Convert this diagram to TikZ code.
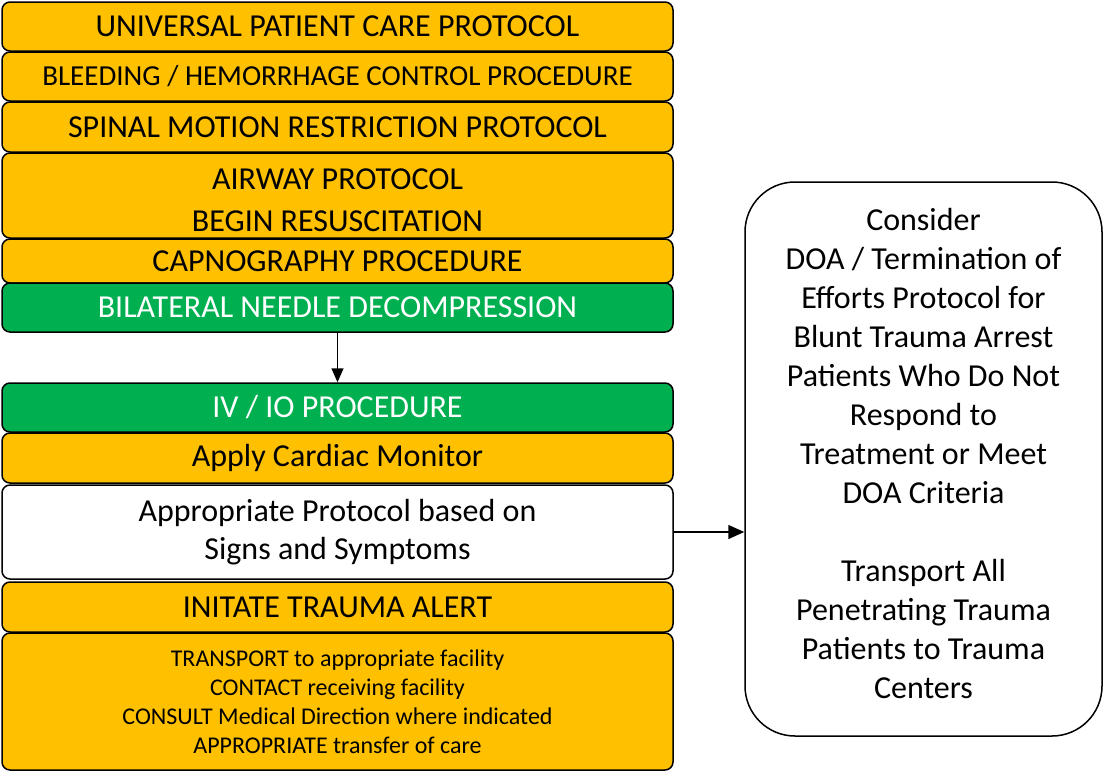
\documentclass[tikz,border=0pt]{standalone}
\usepackage{fontspec}
\setmainfont{Carlito}
\usetikzlibrary{positioning, arrows.meta}

\definecolor{amberfill}{HTML}{FFC000}
\definecolor{greenfill}{HTML}{00B050}

\begin{document}
\begin{tikzpicture}[
    x=1pt, y=-1pt,
    stack/.style={draw=black, line width=1.5pt, rounded corners=8pt, minimum width=671pt, inner sep=0pt, align=center},
    amber/.style={stack, fill=amberfill},
    greenbox/.style={stack, fill=greenfill, text=white},
    plainbox/.style={stack, fill=white},
    big/.style={font=\fontsize{32}{40}\selectfont},
    mid/.style={font=\fontsize{29}{36}\selectfont},
    small/.style={font=\fontsize{24}{29}\selectfont}
]
\useasboundingbox (0,0) rectangle (1106,772);

% Left column of steps
\node[amber, big, minimum height=49pt] (ucp) at (337.5,26.5) {UNIVERSAL PATIENT CARE PROTOCOL};
\node[amber, mid, minimum height=49pt] (bleed) at (337.5,76.5) {BLEEDING / HEMORRHAGE CONTROL PROCEDURE};
\node[amber, big, minimum height=50pt] (spine) at (337.5,127) {SPINAL MOTION RESTRICTION PROTOCOL};
\node[amber, big, minimum height=85pt] (airway) at (337.5,195.5) {\rule{0pt}{31pt}AIRWAY PROTOCOL\\[2pt]BEGIN RESUSCITATION};
\node[amber, big, minimum height=44pt] (capno) at (337.5,261) {CAPNOGRAPHY PROCEDURE};
\node[greenbox, big, minimum height=49pt] (needle) at (337.5,307.5) {BILATERAL NEEDLE DECOMPRESSION};

\node[greenbox, big, minimum height=49pt] (ivio) at (337.5,407.5) {IV / IO PROCEDURE};
\node[amber, big, minimum height=50pt] (monitor) at (337.5,458) {Apply Cardiac Monitor};
\node[plainbox, big, minimum height=94pt] (signs) at (337.5,532) {Appropriate Protocol based on\\[-2pt]Signs and Symptoms};
\node[amber, big, minimum height=50pt] (alert) at (337.5,607) {INITATE TRAUMA ALERT};
\node[amber, small, minimum height=137pt] (transport) at (337.5,701.5) {TRANSPORT to appropriate facility\\CONTACT receiving facility\\CONSULT Medical Direction where indicated\\APPROPRIATE transfer of care};

% Right side box
\node[draw=black, line width=1.5pt, rounded corners=50pt, fill=white, minimum width=357pt, minimum height=554pt, align=center, font=\fontsize{32}{39}\selectfont] (doa) at (923.5,459) {Consider\\DOA / Termination of\\Efforts Protocol for\\Blunt Trauma Arrest\\Patients Who Do Not\\Respond to\\Treatment or Meet\\DOA Criteria\\[39pt]Transport All\\Penetrating Trauma\\Patients to Trauma\\Centers\rule[-11pt]{0pt}{11pt}};

% Connectors
\draw[-{Triangle[length=14pt, width=12pt]}, line width=1.5pt] (needle) -- (ivio);
\draw[-{Triangle[length=16pt, width=14pt]}, line width=1.5pt] (signs.east) -- (signs.east -| doa.west);

\end{tikzpicture}
\end{document}
